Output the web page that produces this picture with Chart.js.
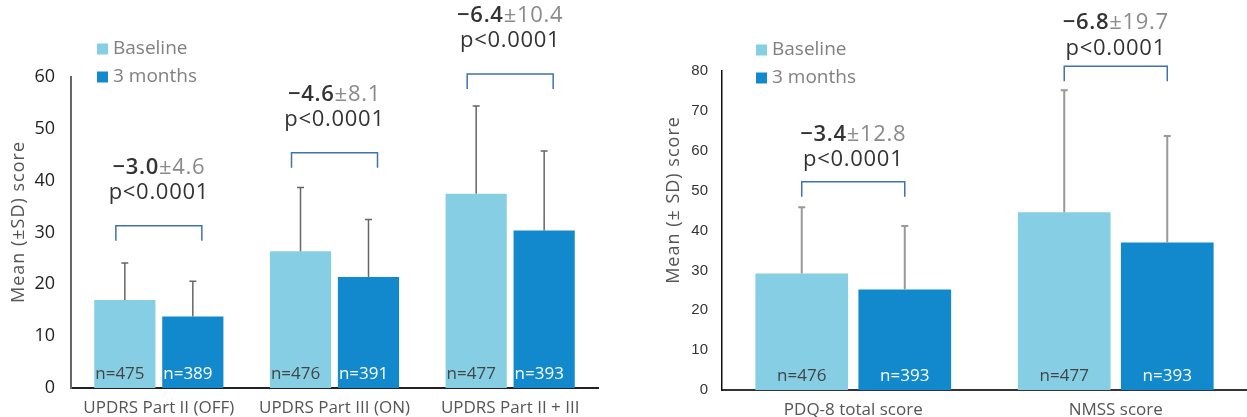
<!DOCTYPE html>
<html>
<head>
<meta charset="utf-8">
<script src="https://cdn.jsdelivr.net/npm/chart.js@4/dist/chart.umd.min.js"></script>
<style>
  html, body { margin: 0; padding: 0; background: #fff; }
  body { width: 1247px; height: 417px; position: relative; overflow: hidden; }
  .panel { position: absolute; top: 0; height: 417px; }
  #leftBox { left: 0; width: 610px; }
  #rightBox { left: 640px; width: 607px; }
</style>
</head>
<body>
<div class="panel" id="leftBox"><canvas id="leftChart"></canvas></div>
<div class="panel" id="rightBox"><canvas id="rightChart"></canvas></div>
<script>
// Series labels
const seriesLabels = ['Baseline', '3 months'];

// Left panel: UPDRS scores
const leftCategories = ['UPDRS Part II (OFF)', 'UPDRS Part III (ON)', 'UPDRS Part II + III'];
const leftBaseline = [17.0, 26.4, 37.5];
const leftBaselineSD = [7.1, 12.3, 16.9];
const leftMonth3 = [13.8, 21.4, 30.4];
const leftMonth3SD = [6.8, 11.1, 15.3];
const leftNBaseline = [475, 476, 477];
const leftNMonth3 = [389, 391, 393];
const leftChange = ['−3.0', '−4.6', '−6.4'];
const leftChangeSD = ['4.6', '8.1', '10.4'];
const leftPValues = ['p<0.0001', 'p<0.0001', 'p<0.0001'];
const leftTicks = [0, 10, 20, 30, 40, 50, 60];

// Right panel: PDQ-8 and NMSS
const rightCategories = ['PDQ-8 total score', 'NMSS score'];
const rightBaseline = [29.2, 44.6];
const rightBaselineSD = [16.6, 30.6];
const rightMonth3 = [25.2, 37.0];
const rightMonth3SD = [15.9, 26.7];
const rightNBaseline = [476, 477];
const rightNMonth3 = [393, 393];
const rightChange = ['−3.4', '−6.8'];
const rightChangeSD = ['12.8', '19.7'];
const rightPValues = ['p<0.0001', 'p<0.0001'];
const rightTicks = [0, 10, 20, 30, 40, 50, 60, 70, 80];

const lightBlue = 'rgb(134, 206, 228)';
const darkBlue = 'rgb(17, 137, 204)';
const FONT = '"Open Sans", "Noto Sans", sans-serif';

// Draws error bars, n= labels, comparison brackets, legend and y title
function makeOverlay(cfg) {
    return {
        id: 'overlay',
        afterDatasetsDraw(chart) {
            const ctx = chart.ctx;
            const ys = chart.scales.y;
            const zeroY = ys.getPixelForValue(0);
            ctx.save();

            // error bars
            chart.data.datasets.forEach((ds, i) => {
                const meta = chart.getDatasetMeta(i);
                meta.data.forEach((bar, j) => {
                    const top = ys.getPixelForValue(ds.data[j] + cfg.sd[i][j]);
                    ctx.strokeStyle = cfg.errColor;
                    ctx.lineWidth = cfg.errWidth;
                    ctx.beginPath();
                    ctx.moveTo(bar.x, bar.y);
                    ctx.lineTo(bar.x, top);
                    ctx.moveTo(bar.x - 3.5, top);
                    ctx.lineTo(bar.x + 3.5, top);
                    ctx.stroke();

                    // n labels
                    ctx.font = '17px ' + FONT;
                    ctx.fillStyle = i === 0 ? '#444' : '#fff';
                    ctx.textBaseline = 'middle';
                    const label = 'n=' + cfg.n[i][j];
                    if (cfg.nAlign === 'left') {
                        ctx.textAlign = 'left';
                        ctx.fillText(label, bar.x - bar.width / 2 + 1, zeroY - 14);
                    } else {
                        ctx.textAlign = 'center';
                        ctx.fillText(label, bar.x, zeroY - 14);
                    }
                });
            });

            // brackets and change text
            const m0 = chart.getDatasetMeta(0);
            const m1 = chart.getDatasetMeta(1);
            cfg.bracketTop.forEach((val, j) => {
                const x0 = m0.data[j].x - cfg.bracketExtra;
                const x1 = m1.data[j].x + cfg.bracketExtra;
                const yt = ys.getPixelForValue(val);
                const yb = yt + cfg.legLength;
                ctx.strokeStyle = '#3f72b0';
                ctx.lineWidth = 1.5;
                ctx.beginPath();
                ctx.moveTo(x0, yb);
                ctx.lineTo(x0, yt);
                ctx.lineTo(x1, yt);
                ctx.lineTo(x1, yb);
                ctx.stroke();

                const cx = (m0.data[j].x + m1.data[j].x) / 2;
                const boldFont = '600 22px ' + FONT;
                const normFont = '22px ' + FONT;
                ctx.letterSpacing = '0.7px';
                ctx.font = boldFont;
                const w1 = ctx.measureText(cfg.change[j]).width;
                ctx.font = normFont;
                const w2 = ctx.measureText('±' + cfg.changeSD[j]).width;
                const startX = cx - (w1 + w2) / 2;
                const line1Y = yt - cfg.textGap[j][0];
                const line2Y = yt - cfg.textGap[j][1];
                ctx.textAlign = 'left';
                ctx.textBaseline = 'middle';
                ctx.font = boldFont;
                ctx.fillStyle = '#333';
                ctx.fillText(cfg.change[j], startX, line1Y);
                ctx.font = normFont;
                ctx.fillStyle = '#8a8a8a';
                ctx.fillText('±' + cfg.changeSD[j], startX + w1, line1Y);
                ctx.fillStyle = '#333';
                ctx.textAlign = 'center';
                ctx.fillText(cfg.p[j], cx, line2Y);
                ctx.letterSpacing = '0px';
            });

            // legend
            chart.data.datasets.forEach((ds, i) => {
                const lx = cfg.legendX;
                const ly = cfg.legendY + i * 28;
                ctx.fillStyle = ds.backgroundColor;
                ctx.fillRect(lx, ly - 5.5, 11, 11);
                ctx.font = '19px ' + FONT;
                ctx.fillStyle = '#808080';
                ctx.textAlign = 'left';
                ctx.textBaseline = 'middle';
                ctx.fillText(ds.label, lx + 16, ly);
            });

            // y axis title
            ctx.translate(cfg.titleX, cfg.titleY);
            ctx.rotate(-Math.PI / 2);
            ctx.font = '18px ' + FONT;
            ctx.letterSpacing = '1px';
            ctx.fillStyle = '#555';
            ctx.textAlign = 'center';
            ctx.textBaseline = 'middle';
            ctx.fillText(cfg.yTitle, 0, 0);
            ctx.restore();
        }
    };
}

function buildChart(id, opts) {
    const ctx = document.getElementById(id);
    return new Chart(ctx, {
        type: 'bar',
        data: {
            labels: opts.categories,
            datasets: [{
                label: seriesLabels[0],
                data: opts.baseline,
                backgroundColor: lightBlue,
                categoryPercentage: opts.catPct,
                barPercentage: 0.9
            }, {
                label: seriesLabels[1],
                data: opts.month3,
                backgroundColor: darkBlue,
                categoryPercentage: opts.catPct,
                barPercentage: 0.9
            }]
        },
        options: {
            responsive: true,
            maintainAspectRatio: false,
            animation: false,
            layout: { padding: opts.padding },
            scales: {
                x: {
                    grid: { display: false, drawTicks: false },
                    border: { display: true, color: opts.xAxisColor, width: 2 },
                    ticks: {
                        padding: 10,
                        color: '#555',
                        font: { family: FONT, size: 17 }
                    },
                    afterFit: function(scale) { scale.height = opts.xHeight; }
                },
                y: {
                    min: 0,
                    max: opts.ticks[opts.ticks.length - 1],
                    afterBuildTicks: function(scale) {
                        scale.ticks = opts.ticks.map(v => ({ value: v }));
                    },
                    grid: { display: false, drawTicks: false },
                    border: { display: true, color: opts.yAxisColor, width: opts.yAxisWidth },
                    ticks: {
                        padding: opts.tickPad,
                        color: opts.tickColor,
                        font: opts.tickFont
                    },
                    afterFit: function(scale) { scale.width = opts.yWidth; }
                }
            },
            plugins: {
                legend: { display: false },
                tooltip: { enabled: false }
            }
        },
        plugins: [makeOverlay(opts.overlay)]
    });
}

buildChart('leftChart', {
    categories: leftCategories,
    baseline: leftBaseline,
    month3: leftMonth3,
    ticks: leftTicks,
    catPct: 0.774,
    padding: { top: 77, right: 12, bottom: 0, left: 0 },
    xHeight: 29,
    yWidth: 71,
    tickPad: 16,
    tickColor: '#222',
    tickFont: { family: FONT, size: 18 },
    xAxisColor: '#222',
    yAxisColor: '#666',
    yAxisWidth: 2,
    overlay: {
        sd: [leftBaselineSD, leftMonth3SD],
        n: [leftNBaseline, leftNMonth3],
        nAlign: 'left',
        errColor: '#666',
        errWidth: 1.5,
        bracketTop: [31.3, 45.4, 60.6],
        bracketExtra: 9,
        legLength: 15,
        textGap: [[58, 33], [58, 33], [58, 33]],
        change: leftChange,
        changeSD: leftChangeSD,
        p: leftPValues,
        legendX: 97,
        legendY: 49,
        yTitle: 'Mean (±SD) score',
        titleX: 18.5,
        titleY: 222
    }
});

buildChart('rightChart', {
    categories: rightCategories,
    baseline: rightBaseline,
    month3: rightMonth3,
    ticks: rightTicks,
    catPct: 0.785,
    padding: { top: 71, right: 0, bottom: 0, left: 0 },
    xHeight: 27,
    yWidth: 82,
    tickPad: 14,
    tickColor: '#333',
    tickFont: { family: '"Liberation Sans", Arial, sans-serif', size: 15 },
    xAxisColor: '#333',
    yAxisColor: '#111',
    yAxisWidth: 1.5,
    overlay: {
        sd: [rightBaselineSD, rightMonth3SD],
        n: [rightNBaseline, rightNMonth3],
        nAlign: 'center',
        errColor: '#999',
        errWidth: 2,
        bracketTop: [52.2, 81.2],
        bracketExtra: 0,
        legLength: 15,
        textGap: [[47, 22], [43, 17]],
        change: rightChange,
        changeSD: rightChangeSD,
        p: rightPValues,
        legendX: 116,
        legendY: 50,
        yTitle: 'Mean (± SD) score',
        titleX: 34,
        titleY: 200
    }
});
</script>
</body>
</html>
